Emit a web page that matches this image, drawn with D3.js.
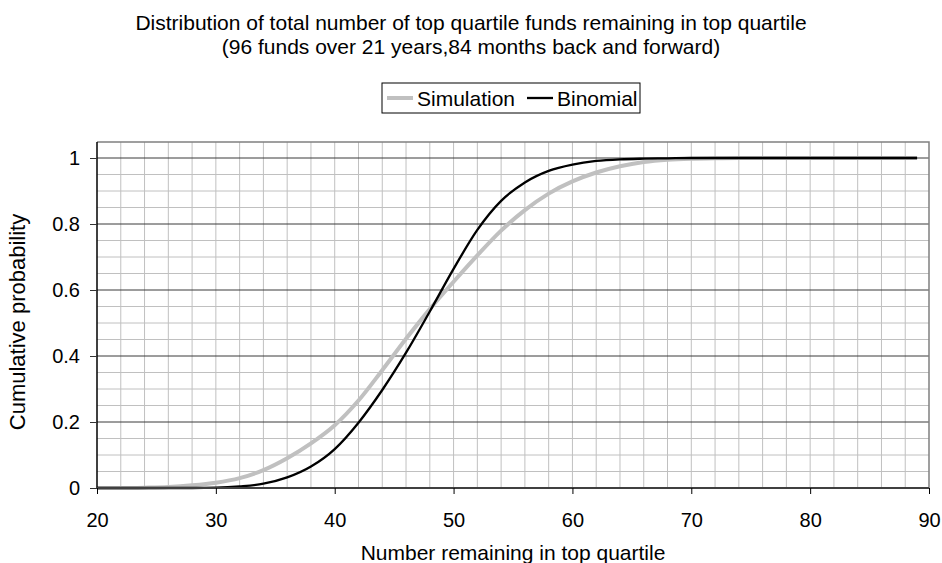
<!DOCTYPE html>
<html>
<head>
<meta charset="utf-8">
<script src="https://cdn.jsdelivr.net/npm/d3@7"></script>
<style>
  html, body { margin: 0; padding: 0; background: #fff; }
  svg { display: block; font-family: "Liberation Sans", Arial, sans-serif; }
</style>
</head>
<body>
<svg id="chart" width="942" height="563"></svg>
<script>
// ---- data ----
const titleLines = [
  "Distribution of total number of top quartile funds remaining in top quartile",
  "(96 funds over 21 years,84 months back and forward)"
];
const seriesNames = ["Simulation", "Binomial"];
const xValues = [20,22,24,26,28,30,32,34,36,38,40,42,44,46,48,50,52,54,56,58,60,62,64,66,68,70,72,74,76,78,80,82,84,86,88,89];
const simulation = [0,0,0.001,0.003,0.008,0.016,0.03,0.054,0.09,0.135,0.19,0.265,0.357,0.452,0.542,0.625,0.705,0.78,0.842,0.892,0.929,0.956,0.975,0.988,0.995,0.998,0.999,1,1,1,1,1,1,1,1,1];
const binomial   = [0,0,0,0,0,0.001,0.005,0.013,0.032,0.065,0.118,0.198,0.297,0.41,0.535,0.664,0.782,0.87,0.926,0.961,0.98,0.991,0.996,0.998,0.999,1,1,1,1,1,1,1,1,1,1,1];
const xTicks = [20,30,40,50,60,70,80,90];
const yTicks = [0,0.2,0.4,0.6,0.8,1];
const xTitle = "Number remaining in top quartile";
const yTitle = "Cumulative probability";

// ---- layout ----
const left = 97, right = 929, bottom = 488, yOneAt = 158, plotTop = 142;
const svg = d3.select("#chart");

const x = d3.scaleLinear().domain([20, 90]).range([left, right]);
const y = d3.scaleLinear().domain([0, 1]).range([bottom, yOneAt]);

// gridlines
const g = svg.append("g");
const vGrid = d3.range(22, 90, 2);
g.selectAll("line.vg").data(vGrid).join("line")
  .attr("x1", d => x(d)).attr("x2", d => x(d))
  .attr("y1", plotTop).attr("y2", bottom)
  .attr("stroke", "#c0c0c0").attr("stroke-width", 1);

const hMinor = d3.range(1, 21).map(i => i * 0.05).filter((d, i) => (i + 1) % 4 !== 0);
g.selectAll("line.hm").data(hMinor).join("line")
  .attr("x1", left).attr("x2", right)
  .attr("y1", d => y(d)).attr("y2", d => y(d))
  .attr("stroke", "#c0c0c0").attr("stroke-width", 1);

const hMajor = yTicks.filter(d => d > 0);
g.selectAll("line.hM").data(hMajor).join("line")
  .attr("x1", left).attr("x2", right)
  .attr("y1", d => y(d)).attr("y2", d => y(d))
  .attr("stroke", "#3a3a3a").attr("stroke-width", 1);

// plot border (top/right)
svg.append("path")
  .attr("d", `M${left},${plotTop}H${right}V${bottom}`)
  .attr("fill", "none").attr("stroke", "#808080").attr("stroke-width", 1.5);

// series
const simData = xValues.map((v, i) => [v, simulation[i]]);
const binData = xValues.map((v, i) => [v, binomial[i]]);
const line = d3.line().x(d => x(d[0])).y(d => y(d[1])).curve(d3.curveMonotoneX);

svg.append("path").datum(simData)
  .attr("d", line).attr("fill", "none")
  .attr("stroke", "#c0c0c0").attr("stroke-width", 4).attr("stroke-linejoin", "round");
svg.append("path").datum(binData)
  .attr("d", line).attr("fill", "none")
  .attr("stroke", "#000").attr("stroke-width", 2.3).attr("stroke-linejoin", "round");

// axes
const yAxis = svg.append("g").attr("transform", `translate(${left},0)`)
  .call(d3.axisLeft(y).tickValues(yTicks).tickSize(7).tickPadding(10).tickFormat(d3.format("")));
yAxis.select(".domain").attr("d", `M0,${plotTop}V${bottom}`).attr("stroke", "#000").attr("stroke-width", 1.5);
yAxis.selectAll(".tick line").attr("stroke", "#333");
yAxis.selectAll("text").attr("font-size", 20).attr("fill", "#000")
  .attr("font-family", "'Liberation Sans', Arial, sans-serif");

const xAxis = svg.append("g").attr("transform", `translate(0,${bottom})`)
  .call(d3.axisBottom(x).tickValues(xTicks).tickSize(6).tickPadding(19).tickFormat(d3.format("d")));
xAxis.select(".domain").attr("d", `M${left},0H${right}`).attr("stroke", "#404040").attr("stroke-width", 2);
xAxis.selectAll(".tick line").attr("stroke", "#000");
xAxis.selectAll("text").attr("font-size", 20).attr("fill", "#000")
  .attr("font-family", "'Liberation Sans', Arial, sans-serif");

// titles
svg.selectAll("text.title").data(titleLines).join("text")
  .attr("class", "title")
  .attr("x", 471).attr("y", (d, i) => 30 + i * 24)
  .attr("text-anchor", "middle").attr("font-size", 21).attr("fill", "#000")
  .text(d => d);

svg.append("text")
  .attr("x", (left + right) / 2).attr("y", 560)
  .attr("text-anchor", "middle").attr("font-size", 21).attr("fill", "#000")
  .text(xTitle);

svg.append("text")
  .attr("transform", `translate(25,${(plotTop + bottom) / 2 + 7}) rotate(-90)`)
  .attr("text-anchor", "middle").attr("font-size", 22).attr("fill", "#000")
  .text(yTitle);

// legend
const lg = svg.append("g");
lg.append("rect").attr("x", 382).attr("y", 83).attr("width", 258).attr("height", 30)
  .attr("fill", "#fff").attr("stroke", "#000").attr("stroke-width", 1);
const legendItems = [
  { name: seriesNames[0], color: "#c0c0c0", w: 4, x0: 387 },
  { name: seriesNames[1], color: "#000", w: 2.3, x0: 527 }
];
legendItems.forEach(it => {
  lg.append("line").attr("x1", it.x0).attr("x2", it.x0 + 26)
    .attr("y1", 98).attr("y2", 98).attr("stroke", it.color).attr("stroke-width", it.w);
  lg.append("text").attr("x", it.x0 + 30).attr("y", 98).attr("dy", "0.36em")
    .attr("font-size", 21).attr("fill", "#000").text(it.name);
});
</script>
</body>
</html>
